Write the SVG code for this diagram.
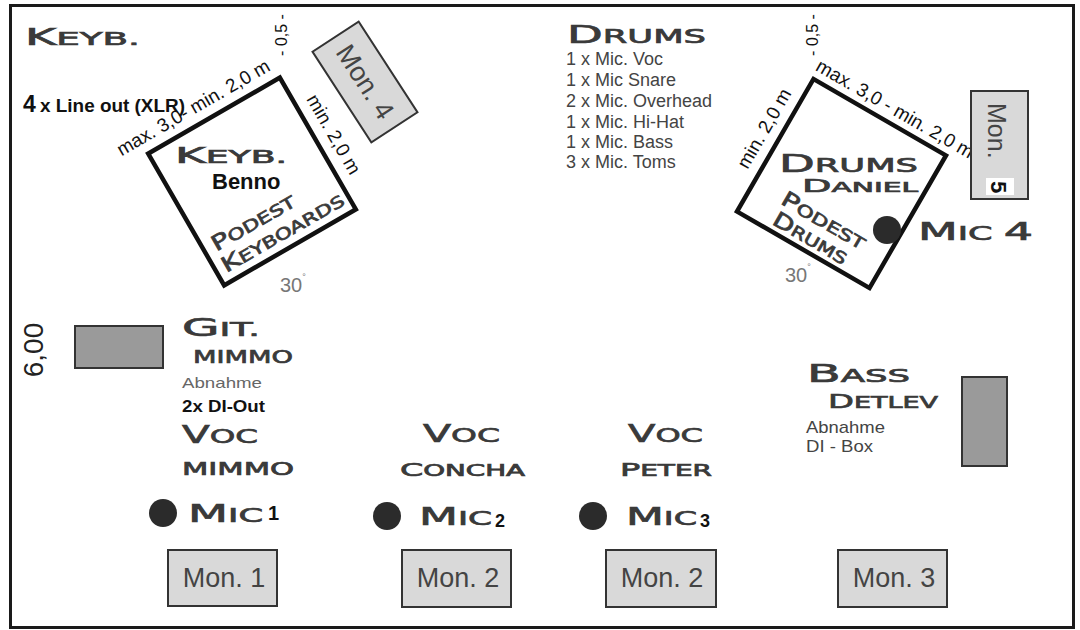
<svg xmlns="http://www.w3.org/2000/svg" width="1080" height="630" viewBox="0 0 1080 630">
<style>
.sc{font-family:"DejaVu Sans",sans-serif;fill:#3a3a3a;stroke:#3a3a3a;stroke-width:0.7;}
.ar{font-family:"Liberation Sans",Arial,sans-serif;}
.mon{fill:#d9d9d9;stroke:#333;stroke-width:2;}
.amp{fill:#9a9a9a;stroke:#333;stroke-width:2;}
.podest{fill:none;stroke:#111;stroke-width:4.5;}
.mic{fill:#2b2b2b;}
.dim{font-family:"Liberation Sans",Arial,sans-serif;font-size:19px;fill:#111;}
.montxt{font-family:"Liberation Sans",Arial,sans-serif;font-size:27px;fill:#444;text-anchor:middle;}
.list{font-family:"Liberation Sans",Arial,sans-serif;font-size:18px;fill:#444;}
.deg{font-family:"Liberation Sans",Arial,sans-serif;font-size:20px;fill:#777;}
</style>
<rect width="1080" height="630" fill="#fff"/>
<rect x="10.5" y="5.5" width="1063" height="622" fill="#fff" stroke="#1a1a1a" stroke-width="3"/>

<g id="keyb-label">
<text class="sc" x="25" y="45" font-size="18" textLength="115" lengthAdjust="spacingAndGlyphs"><tspan font-size="23">K</tspan>EYB.</text>
<text class="ar" x="23" y="112" font-size="23" font-weight="bold" fill="#111">4</text>
<text class="ar" x="40" y="112" font-size="18" font-weight="bold" fill="#111" textLength="145" lengthAdjust="spacingAndGlyphs">x Line out (XLR)</text>
</g>

<g id="keyboard-podest">
<g transform="translate(252,181.5) rotate(-30)">
<rect class="podest" x="-76" y="-76" width="152" height="152"/>
<text class="dim" x="-14" y="-87" text-anchor="middle">max. 3,0- min. 2,0 m</text>
<text class="dim" transform="translate(88,0) rotate(90)" text-anchor="middle">min. 2,0 m</text>
<text class="sc" x="-66" y="43" font-size="16" textLength="93" lengthAdjust="spacingAndGlyphs"><tspan font-size="21">P</tspan>ODEST</text>
<text class="sc" x="-68" y="66.5" font-size="16" textLength="138" lengthAdjust="spacingAndGlyphs"><tspan font-size="21">K</tspan>EYBOARDS</text>
</g>
<text class="dim" style="font-size:16px" transform="translate(287,35) rotate(-90)" text-anchor="middle">- 0,5 -</text>
<text class="sc" x="175" y="163" font-size="17" textLength="112" lengthAdjust="spacingAndGlyphs"><tspan font-size="22">K</tspan>EYB.</text>
<text class="ar" x="212" y="189" font-size="22" font-weight="bold" fill="#111">Benno</text>
<text class="deg" x="280" y="292">30<tspan font-size="9" dy="-12">°</tspan></text>
</g>

<g id="mon4" transform="translate(365,82) rotate(57)">
<rect class="mon" x="-54" y="-27.5" width="108" height="55"/>
<text class="montxt" x="0" y="9">Mon. 4</text>
</g>

<g id="drums-label">
<text class="sc" x="567" y="43" font-size="19" textLength="139" lengthAdjust="spacingAndGlyphs"><tspan font-size="25">D</tspan>RUMS</text>
<text class="list" x="566" y="65">1 x Mic. Voc</text>
<text class="list" x="566" y="86">1 x Mic Snare</text>
<text class="list" x="566" y="107">2 x Mic. Overhead</text>
<text class="list" x="566" y="128">1 x Mic. Hi-Hat</text>
<text class="list" x="566" y="148">1 x Mic. Bass</text>
<text class="list" x="566" y="168">3 x Mic. Toms</text>
</g>

<g id="drums-podest">
<g transform="translate(841.5,183.5) rotate(30)">
<rect class="podest" x="-76.5" y="-76.5" width="153" height="153"/>
<text class="dim" x="9" y="-85" text-anchor="middle">max. 3,0 - min. 2,0 m</text>
<text class="dim" transform="translate(-88,-9) rotate(-90)" text-anchor="middle">min. 2,0 m</text>
<text class="sc" x="-44" y="48" font-size="16" textLength="94" lengthAdjust="spacingAndGlyphs"><tspan font-size="21">P</tspan>ODEST</text>
<text class="sc" x="-41" y="70" font-size="16" textLength="83" lengthAdjust="spacingAndGlyphs"><tspan font-size="21">D</tspan>RUMS</text>
</g>
<text class="dim" style="font-size:16px" transform="translate(818,35) rotate(-90)" text-anchor="middle">- 0,5 -</text>
<text class="sc" x="779" y="172" font-size="19" textLength="139" lengthAdjust="spacingAndGlyphs"><tspan font-size="25">D</tspan>RUMS</text>
<text class="sc" x="802" y="192" font-size="14" textLength="116" lengthAdjust="spacingAndGlyphs"><tspan font-size="18">D</tspan>ANIEL</text>
<text class="deg" x="785" y="282">30<tspan font-size="9" dy="-12">°</tspan></text>
</g>

<g id="mic4">
<circle class="mic" cx="887" cy="230" r="14"/>
<text class="sc" x="918" y="240" font-size="19" textLength="115" lengthAdjust="spacingAndGlyphs"><tspan font-size="25">M</tspan>IC <tspan font-size="25">4</tspan></text>
</g>

<g id="mon5">
<rect class="mon" x="971" y="91" width="57" height="108"/>
<text class="ar" font-size="25" fill="#444" transform="translate(988,103) rotate(90)">Mon.</text>
<rect x="986" y="178" width="28" height="17" fill="#fff"/>
<text class="ar" font-size="22" font-weight="bold" fill="#111" transform="translate(991,181) rotate(90)">5</text>
</g>

<g id="git">
<rect class="amp" x="75" y="326" width="88" height="42"/>
<text class="ar" font-size="28" fill="#222" transform="translate(43,350) rotate(-90)" text-anchor="middle">6,00</text>
<text class="sc" x="182" y="336" font-size="19" textLength="78" lengthAdjust="spacingAndGlyphs"><tspan font-size="25">G</tspan>IT.</text>
<text class="sc" x="193" y="363" font-size="18" textLength="100" lengthAdjust="spacingAndGlyphs">MIMMO</text>
<text class="ar" x="182" y="388" font-size="15" fill="#666" textLength="80" lengthAdjust="spacingAndGlyphs">Abnahme</text>
<text class="ar" x="182" y="412" font-size="17" font-weight="bold" fill="#111" textLength="83" lengthAdjust="spacingAndGlyphs">2x DI-Out</text>
</g>

<g id="voc-mimmo">
<text class="sc" x="182" y="443" font-size="20" textLength="76" lengthAdjust="spacingAndGlyphs"><tspan font-size="25">V</tspan>OC</text>
<text class="sc" x="182" y="475" font-size="17" textLength="112" lengthAdjust="spacingAndGlyphs">MIMMO</text>
<circle class="mic" cx="163" cy="513" r="14"/>
<text class="sc" x="188" y="522" font-size="19" textLength="75" lengthAdjust="spacingAndGlyphs"><tspan font-size="25">M</tspan>IC</text>
<text class="ar" x="268" y="520" font-size="20" font-weight="bold" fill="#111">1</text>
</g>
<g id="mon1">
<rect class="mon" x="168" y="550" width="109" height="56"/>
<text class="montxt" x="224" y="587">Mon. 1</text>
</g>

<g id="voc-concha">
<text class="sc" x="423" y="442" font-size="20" textLength="77" lengthAdjust="spacingAndGlyphs"><tspan font-size="25">V</tspan>OC</text>
<text class="sc" x="400" y="476" font-size="15" textLength="125" lengthAdjust="spacingAndGlyphs"><tspan font-size="18">C</tspan>ONCHA</text>
<circle class="mic" cx="387" cy="516" r="14"/>
<text class="sc" x="419" y="525" font-size="19" textLength="73" lengthAdjust="spacingAndGlyphs"><tspan font-size="25">M</tspan>IC</text>
<text class="ar" x="495" y="527" font-size="18" font-weight="bold" fill="#111">2</text>
</g>
<g id="mon2a">
<rect class="mon" x="402" y="550" width="109" height="57"/>
<text class="montxt" x="458" y="587">Mon. 2</text>
</g>

<g id="voc-peter">
<text class="sc" x="628" y="442" font-size="20" textLength="75" lengthAdjust="spacingAndGlyphs"><tspan font-size="25">V</tspan>OC</text>
<text class="sc" x="620" y="476" font-size="15" textLength="92" lengthAdjust="spacingAndGlyphs"><tspan font-size="18">P</tspan>ETER</text>
<circle class="mic" cx="593" cy="516" r="14"/>
<text class="sc" x="626" y="525" font-size="19" textLength="71" lengthAdjust="spacingAndGlyphs"><tspan font-size="25">M</tspan>IC</text>
<text class="ar" x="700" y="527" font-size="18" font-weight="bold" fill="#111">3</text>
</g>
<g id="mon2b">
<rect class="mon" x="606" y="550" width="110" height="57"/>
<text class="montxt" x="662" y="587">Mon. 2</text>
</g>

<g id="bass">
<text class="sc" x="807" y="382" font-size="18" textLength="103" lengthAdjust="spacingAndGlyphs"><tspan font-size="25">B</tspan>ASS</text>
<text class="sc" x="828" y="408" font-size="16" textLength="110" lengthAdjust="spacingAndGlyphs"><tspan font-size="20">D</tspan>ETLEV</text>
<text class="ar" x="806" y="433" font-size="17" fill="#444" textLength="79" lengthAdjust="spacingAndGlyphs">Abnahme</text>
<text class="ar" x="806" y="452" font-size="17" fill="#444" textLength="67" lengthAdjust="spacingAndGlyphs">DI - Box</text>
<rect class="amp" x="962" y="377" width="45" height="89"/>
</g>
<g id="mon3">
<rect class="mon" x="838" y="550" width="109" height="57"/>
<text class="montxt" x="894" y="587">Mon. 3</text>
</g>
</svg>
